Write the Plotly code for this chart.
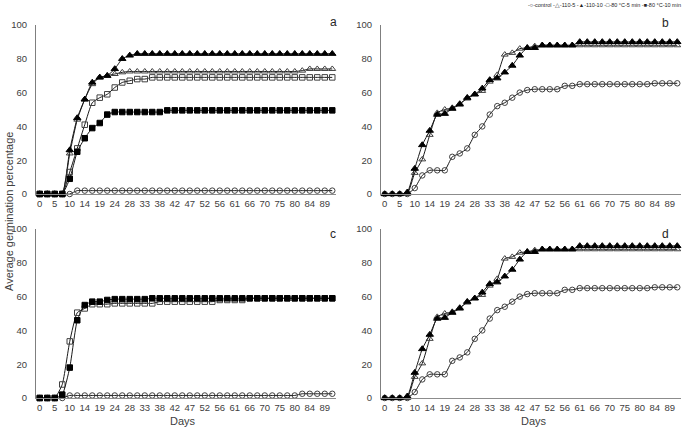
import plotly.graph_objects as go

# ---------------- data ----------------
days = [0, 3, 5, 7, 10, 12, 14, 17, 19, 21, 24, 26, 28, 31, 33, 35, 38, 40, 42, 45,
        47, 49, 52, 54, 56, 59, 61, 63, 66, 68, 70, 73, 75, 77, 80, 82, 84, 87, 89, 91]
tick_days = [0, 5, 10, 14, 19, 24, 28, 33, 38, 42, 47, 52, 56, 61, 66, 70, 75, 80, 84, 89]
y_ticks = [0, 20, 40, 60, 80, 100]

series_names = ["control", "110-5", "110-10", "80 °C-5 min", "80 °C-10 min"]
panel_labels = ["a", "b", "c", "d"]

# panel a
a_control = [0, 0, 0, 0, 0, 2, 2, 2, 2, 2, 2, 2, 2, 2, 2, 2, 2, 2, 2, 2,
             2, 2, 2, 2, 2, 2, 2, 2, 2, 2, 2, 2, 2, 2, 2, 2, 2, 2, 2, 2]
a_110_5 = [0, 0, 0, 0, 24, 44, 56, 65, 69, 70, 71, 72, 72.5, 72.5, 72.5, 72.5, 72.5, 72.5, 72.5, 72.5,
           72.5, 72.5, 72.5, 72.5, 72.5, 72.5, 72.5, 72.5, 72.5, 72.5, 72.5, 72.5, 72.5, 72.5, 72.5, 73, 74, 74, 74, 74]
a_110_10 = [0, 0, 0, 0, 26, 45, 56, 66, 69, 70, 74, 80, 82, 83, 83, 83, 83, 83, 83, 83,
            83, 83, 83, 83, 83, 83, 83, 83, 83, 83, 83, 83, 83, 83, 83, 83, 83, 83, 83, 83]
a_80_5 = [0, 0, 0, 0, 13, 27, 41, 54, 57, 59, 63, 66, 67, 68, 68, 69, 69, 69, 69, 69,
          69, 69, 69, 69, 69, 69, 69, 69, 69, 69, 69, 69, 69, 69, 69, 69, 69, 69, 69, 69]
a_80_10 = [0, 0, 0, 0, 9, 25, 33, 39, 42, 47, 48.5, 48.5, 48.5, 48.5, 48.5, 48.5, 48.5, 49.5, 49.5, 49.5,
           49.5, 49.5, 49.5, 49.5, 49.5, 49.5, 49.5, 49.5, 49.5, 49.5, 49.5, 49.5, 49.5, 49.5, 49.5, 49.5, 49.5, 49.5, 49.5, 49.5]

# panel b
b_control = [0, 0, 0, 0, 3.5, 11, 14, 14, 14, 22, 24, 27, 35, 40, 47, 52, 54, 57, 60, 61.5,
             62, 62, 62, 62, 64, 64, 65, 65, 65, 65, 65, 65, 65, 65, 65, 65, 65.5, 65.5, 65.5, 65.5]
b_110_5 = [0, 0, 0, 0, 12.5, 20.5, 35, 48, 50, 51, 53.5, 56.5, 59, 61, 66.5, 70.5, 82.5, 83.5, 86, 86.5,
           87.5, 88, 88, 88, 88, 88, 88, 88, 88, 88, 88, 88, 88, 88, 88, 88, 88, 88, 88, 88]
b_110_10 = [0, 0, 0, 1, 15, 29, 37.5, 47, 47.5, 50.5, 53, 57, 59, 62.5, 67.5, 68.5, 72, 76, 82, 86.5,
            86.5, 88, 88, 88, 88, 88, 90, 90, 90, 90, 90, 90, 90, 90, 90, 90, 90, 90, 90, 90]

# panel c
c_control = [0, 0, 0, 0, 1.5, 1.5, 1.5, 1.5, 1.5, 1.5, 1.5, 1.5, 1.5, 1.5, 1.5, 1.5, 1.5, 1.5, 1.5, 1.5,
             1.5, 1.5, 1.5, 1.5, 1.5, 1.5, 1.5, 1.5, 1.5, 1.5, 1.5, 1.5, 1.5, 1.5, 1.5, 2.5, 2.5, 2.5, 2.5, 2.5]
c_80_5 = [0, 0, 0, 8, 33.5, 50.5, 53, 55.5, 55.5, 55.5, 56, 56, 56, 56, 56, 56, 57, 57, 57, 57,
          57, 57, 57, 57, 58, 58, 58, 58, 59, 59, 59, 59, 59, 59, 59, 59, 59, 59, 59, 59]
c_80_10 = [0, 0, 0, 2, 18, 46, 55, 57, 57, 58, 58.5, 58.5, 58.5, 58.5, 58.5, 59, 59, 59, 59, 59,
           59, 59, 59, 59, 59, 59, 59, 59, 59, 59, 59, 59, 59, 59, 59, 59, 59, 59, 59, 59]

# panel d
d_control = b_control
d_110_5 = b_110_5
d_110_10 = b_110_10

panels = [
    {"control": a_control, "110-5": a_110_5, "110-10": a_110_10, "80 °C-5 min": a_80_5, "80 °C-10 min": a_80_10},
    {"control": b_control, "110-5": b_110_5, "110-10": b_110_10},
    {"control": c_control, "80 °C-5 min": c_80_5, "80 °C-10 min": c_80_10},
    {"control": d_control, "110-5": d_110_5, "110-10": d_110_10},
]

# ---------------- styling / layout ----------------
W, H = 685, 430
FONT = "Liberation Sans, Arial, sans-serif"
TXT = "#404040"

styles = {
    "control": dict(symbol="circle-open", size=5.5, color="#404040"),
    "110-5": dict(symbol="triangle-up-open", size=6, color="#404040"),
    "110-10": dict(symbol="triangle-up", size=6.5, color="#000000"),
    "80 °C-5 min": dict(symbol="square-open", size=5.5, color="#404040"),
    "80 °C-10 min": dict(symbol="square", size=5.5, color="#000000"),
}

# pixel boxes of the four plot areas (x0, x1, ytop, ybottom)
boxes = [(36, 336, 25, 194), (381, 681, 25, 194), (36, 336, 229, 398), (381, 681, 229, 398)]
label_pos = [(333, 22), (665, 23), (333, 234), (665, 234)]


def fx(x):
    return x / W


def fy(y):
    return 1 - y / H


cats = [str(d) for d in days]
tickcats = [str(d) for d in tick_days]

fig = go.Figure()
for k, pdata in enumerate(panels):
    ax = "" if k == 0 else str(k + 1)
    for name in series_names:
        if name not in pdata:
            continue
        st = styles[name]
        fig.add_trace(go.Scatter(
            x=cats, y=pdata[name], name=name, mode="lines+markers",
            xaxis="x" + ax, yaxis="y" + ax,
            line=dict(color="#1a1a1a", width=1, shape="spline", smoothing=0.5),
            marker=dict(symbol=st["symbol"], size=st["size"], color=st["color"],
                        line=dict(color=st["color"], width=1)),
            cliponaxis=False, showlegend=False,
        ))
    x0, x1, yt, yb = boxes[k]
    xa = dict(domain=[fx(x0), fx(x1)], anchor="y" + ax, type="category",
              categoryorder="array", categoryarray=cats,
              tickmode="array", tickvals=tickcats, ticktext=tickcats,
              range=[-0.5, len(cats) - 0.5], showgrid=False, zeroline=False,
              showline=True, linecolor="#8c8c8c", linewidth=1, ticks="",
              tickfont=dict(family=FONT, size=9.5, color=TXT), tickangle=0,
              automargin=False, ticklabelstandoff=1)
    ya = dict(domain=[fy(yb), fy(yt)], anchor="x" + ax, range=[0, 100],
              tickmode="array", tickvals=y_ticks, showgrid=False, zeroline=False,
              showline=True, linecolor="#7f7f7f", linewidth=1, ticks="",
              tickfont=dict(family=FONT, size=9.5, color=TXT),
              automargin=False, ticklabelstandoff=6)
    fig.update_layout(**{"xaxis" + ax: xa, "yaxis" + ax: ya})

annotations = []
for k, lab in enumerate(panel_labels):
    lx, ly = label_pos[k]
    annotations.append(dict(x=fx(lx), y=fy(ly), xref="paper", yref="paper", text=lab,
                            showarrow=False, xanchor="center", yanchor="middle",
                            font=dict(family=FONT, size=12, color="#262626")))
for cx in (183, 534):
    annotations.append(dict(x=fx(cx), y=fy(421), xref="paper", yref="paper", text="Days",
                            showarrow=False, xanchor="center", yanchor="middle",
                            font=dict(family=FONT, size=11, color=TXT)))
annotations.append(dict(x=fx(9), y=fy(212), xref="paper", yref="paper",
                        text="Average germination percentage", textangle=-90,
                        showarrow=False, xanchor="center", yanchor="middle",
                        font=dict(family=FONT, size=11, color=TXT)))
legend_glyphs = {"control": "-○-", "110-5": "-△-", "110-10": "-▲-",
                 "80 °C-5 min": "-□-", "80 °C-10 min": "-■-"}
legend_text = " ".join(legend_glyphs[n] + n for n in series_names)
annotations.append(dict(x=fx(683), y=fy(5), xref="paper", yref="paper", text=legend_text,
                        showarrow=False, xanchor="right", yanchor="middle",
                        font=dict(family=FONT, size=5.5, color="#262626")))

fig.update_layout(
    width=W, height=H, margin=dict(l=0, r=0, t=0, b=0),
    paper_bgcolor="white", plot_bgcolor="white",
    showlegend=False, annotations=annotations,
    font=dict(family=FONT, color=TXT),
)

fig.write_html("out.html", config={"displayModeBar": False},
               post_script="document.body.style.margin='0';document.body.style.padding='0';")
